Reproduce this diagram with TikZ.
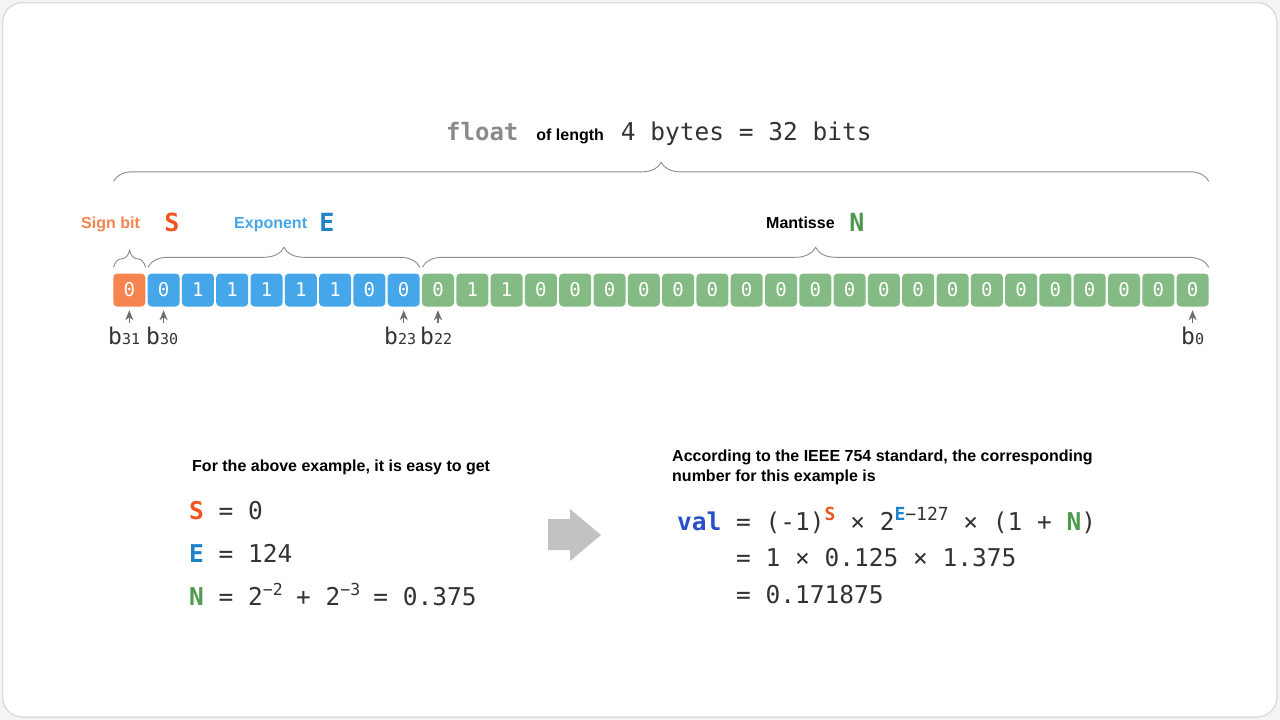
\documentclass[tikz,border=0pt]{standalone}
\usepackage{fontspec}
\setmainfont{Liberation Sans}
\setmonofont{DejaVu Sans Mono}
\usetikzlibrary{decorations.pathreplacing,arrows.meta,calc}
\definecolor{signc}{HTML}{F5844F}
\definecolor{expc}{HTML}{45A6E9}
\definecolor{manc}{HTML}{84BB84}
\definecolor{sdark}{HTML}{EE5520}
\definecolor{edark}{HTML}{1F82C8}
\definecolor{ndark}{HTML}{4E9A50}
\definecolor{valc}{HTML}{2850C8}
\definecolor{txt}{HTML}{333333}
\definecolor{graytxt}{HTML}{8A8A8A}
\definecolor{ptrc}{HTML}{6E6E6E}
\definecolor{bracec}{HTML}{8C8C8C}
\definecolor{arrowc}{HTML}{C2C2C2}
\definecolor{bgc}{HTML}{F4F4F4}
\definecolor{cardline}{HTML}{DDDDDD}
\newcommand{\fsz}[1]{\fontsize{#1}{#1}\selectfont}
\newcommand{\supr}[1]{\raisebox{10pt}{\fsz{18}#1}}
\newcommand{\supl}[1]{\raisebox{10pt}{\fsz{16.5}#1}\kern-1.5pt\relax}
\newcommand{\bsub}[1]{b{\fsz{15}#1}}
\tikzset{
  cell/.style={minimum width=32pt, minimum height=33pt, rounded corners=4pt, inner sep=0pt, text=white, font=\ttfamily\fsz{19}},
  lbl/.style={inner sep=0pt, font=\bfseries\fsz{16}},
  big/.style={inner sep=0pt, font=\ttfamily\bfseries\fsz{25}},
  mono/.style={inner sep=0pt, text=txt, font=\ttfamily\fsz{24.5}},
  blab/.style={inner sep=0pt, text=txt, font=\ttfamily\fsz{23}, anchor=base west},
  bracestyle/.style={draw=bracec, line width=0.9pt, decorate, decoration={brace, amplitude=#1}},
  ptr/.style={draw=ptrc, line width=1.5pt, -{Stealth[width=8pt,length=10pt,inset=3pt]}, shorten >=3.5pt, shorten <=3pt}
}
\begin{document}
\begin{tikzpicture}[x=1pt,y=-1pt]
\useasboundingbox (0,0) rectangle (1280,720);
\fill[bgc] (0,0) rectangle (1280,720);
\filldraw[fill=white, draw=cardline, line width=1.5pt, rounded corners=20pt] (2.5,2.5) rectangle (1277,717);

% title
\node[inner sep=0pt, anchor=base west] (title) at (446,140)
  {{\ttfamily\bfseries\fsz{24}\color{graytxt}float}\hspace{18pt}{\bfseries\fsz{16}of length}\hspace{17pt}{\ttfamily\fsz{24.5}\color{txt}4 bytes = 32 bits}};

% cells
\foreach \b [count=\j from 0] in {0,0,1,1,1,1,1,0,0,0,1,1,0,0,0,0,0,0,0,0,0,0,0,0,0,0,0,0,0,0,0,0}{
  \ifnum\j=0 \def\col{signc}\else\ifnum\j<9 \def\col{expc}\else\def\col{manc}\fi\fi
  \node[cell, fill=\col] (c\j) at ({129.3+34.3*\j},290) {\b};
}

% braces
\draw[bracestyle=19pt] ([xshift=0.5pt,yshift=92pt]c0.north west) -- ([yshift=92pt]c31.north east);
\draw[bracestyle=17pt] ([xshift=0.5pt,yshift=6pt]c0.north west) -- ([yshift=6pt]c0.north east);
\draw[bracestyle=20pt] ([xshift=0.5pt,yshift=6pt]c1.north west) -- ([yshift=6pt]c8.north east);
\draw[bracestyle=20pt] ([xshift=0.5pt,yshift=6pt]c9.north west) -- ([yshift=6pt]c31.north east);

% labels above
\node[lbl, text=signc, anchor=base west] (signl) at (81,228) {Sign bit};
\node[big, text=sdark, anchor=base] (Sl) at (172,231) {S};
\node[lbl, text=expc, anchor=base west] (expl) at (234,228) {Exponent};
\node[big, text=edark, anchor=base] (El) at (327,231) {E};
\node[lbl, text=black, anchor=base west] (manl) at (766,228) {Mantisse};
\node[big, text=ndark, anchor=base] (Nl) at (857,231) {N};

% bit index labels
\node[blab] (b31) at (108,344) {\bsub{31}};
\node[blab] (b30) at (146,344) {\bsub{30}};
\node[blab] (b23) at (384,344) {\bsub{23}};
\node[blab] (b22) at (420,344) {\bsub{22}};
\node[blab] (b0) at (1181,344) {\bsub{0}};
\draw[ptr] (c0.south |- b31.north) -- (c0.south);
\draw[ptr] (c1.south |- b30.north) -- (c1.south);
\draw[ptr] (c8.south |- b23.north) -- (c8.south);
\draw[ptr] (c9.south |- b22.north) -- (c9.south);
\draw[ptr] (c31.south |- b0.north) -- (c31.south);

% bottom left
\node[lbl, text=black, anchor=base west] (lefthead) at (192,471) {For the above example, it is easy to get};
\node[mono, anchor=base west] (eqS) at (189,519) {{\bfseries\color{sdark}S} = 0};
\node[mono, anchor=base west] (eqE) at (189,562) {{\bfseries\color{edark}E} = 124};
\node[mono, anchor=base west] (eqN) at (189,605) {{\bfseries\color{ndark}N} = 2\supl{−2} + 2\supl{−3} = 0.375};

% arrow
\fill[arrowc] (548,519) -- (570,519) -- (570,509) -- (601,535) -- (570,561) -- (570,550) -- (548,550) -- cycle;

% bottom right
\node[lbl, text=black, anchor=base west] (righthead1) at (672,461) {According to the IEEE 754 standard, the corresponding};
\node[lbl, text=black, anchor=base west] (righthead2) at (672,481) {number for this example is};
\node[mono, anchor=base west] (val1) at (677,530) {{\bfseries\color{valc}val} = (-1)\supr{{\bfseries\color{sdark}S}} × 2\supr{{\bfseries\color{edark}E}−127} × (1 + {\bfseries\color{ndark}N})};
\node[mono, anchor=base west] (val2) at (736,566) {= 1 × 0.125 × 1.375};
\node[mono, anchor=base west] (val3) at (736,603) {= 0.171875};
\end{tikzpicture}
\end{document}
